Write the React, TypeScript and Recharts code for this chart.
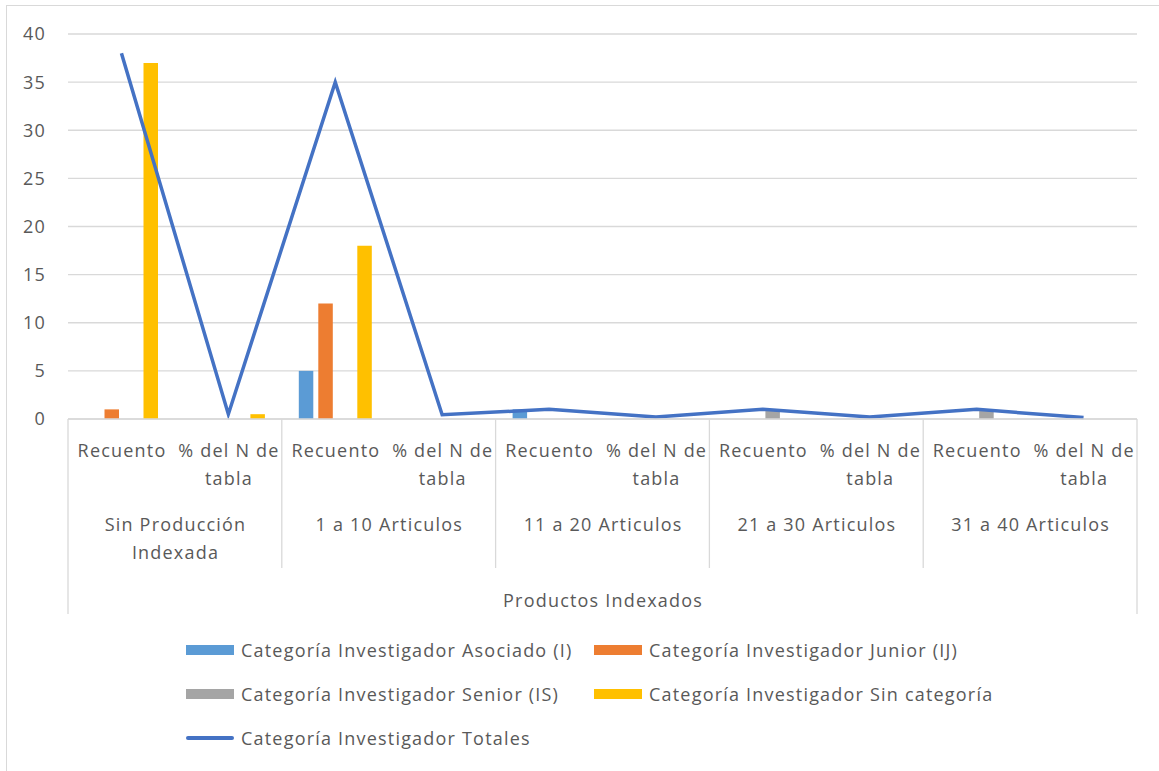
import React from 'react';
import { ComposedChart, Bar, Line, XAxis, YAxis, CartesianGrid, Legend } from 'recharts';

const groupLabels: string[][] = [
  ['Sin Producción', 'Indexada'],
  ['1 a 10 Articulos'],
  ['11 a 20 Articulos'],
  ['21 a 30 Articulos'],
  ['31 a 40 Articulos'],
];
const subLabels: string[][] = [['Recuento'], ['% del N de', 'tabla']];
const axisTitle = 'Productos Indexados';

const asociado = [0, 0, 5, 0, 1, 0, 0, 0, 0, 0];
const junior = [1, 0, 12, 0, 0, 0, 0, 0, 0, 0];
const senior = [0, 0, 0, 0, 0, 0, 1, 0, 1, 0];
const sinCategoria = [37, 0.5, 18, 0, 0, 0, 0, 0, 0, 0];
const totales = [38, 0.5, 35, 0.45, 1, 0.2, 1, 0.2, 1, 0.15];
const yTicks = [0, 5, 10, 15, 20, 25, 30, 35, 40];

const seriesNames = {
  asociado: 'Categoría Investigador Asociado (I)',
  junior: 'Categoría Investigador Junior (IJ)',
  senior: 'Categoría Investigador Senior (IS)',
  sinCategoria: 'Categoría Investigador Sin categoría',
  totales: 'Categoría Investigador Totales',
};

const data = asociado.map((_, i) => ({
  sub: subLabels[i % 2].join(' '),
  group: groupLabels[Math.floor(i / 2)].join(' '),
  asociado: asociado[i],
  junior: junior[i],
  senior: senior[i],
  sinCategoria: sinCategoria[i],
  totales: totales[i],
}));

const FONT = "'Open Sans', sans-serif";
const TEXT = '#595959';
const LINE = '#D9D9D9';
const FS = 18;
const LS = 1.2;

const T = (p: any) => (
  <text x={p.x} y={p.y} textAnchor="middle" dominantBaseline="central"
    fontFamily={FONT} fontSize={FS} fill={TEXT} style={{ letterSpacing: `${LS}px` }}>{p.children}</text>
);

const XTick = (props: any) => {
  const { x, y, payload, index, visibleTicksCount } = props;
  const i: number = payload?.index ?? index;
  const half: number = payload?.offset ?? 53.45;
  const count: number = visibleTicksCount ?? data.length;
  const lines = subLabels[i % 2];
  const els: React.ReactNode[] = [];
  lines.forEach((l, k) => {
    els.push(<T key={'s' + k} x={x + LS / 2} y={y + 31 + k * 28}>{l}</T>);
  });
  if (i % 2 === 0) {
    const g = groupLabels[Math.floor(i / 2)];
    g.forEach((l, k) => {
      els.push(<T key={'g' + k} x={x + half + LS / 2} y={y + 105 + k * 28}>{l}</T>);
    });
    els.push(<line key="sep" x1={x - half} x2={x - half} y1={y} y2={i === 0 ? y + 195 : y + 149} stroke={LINE} strokeWidth={1.3} />);
  }
  if (i === count - 1) {
    els.push(<line key="end" x1={x + half} x2={x + half} y1={y} y2={y + 195} stroke={LINE} strokeWidth={1.3} />);
  }
  if (i === 0) {
    els.push(<T key="title" x={x - half + count * half + LS / 2} y={y + 181}>{axisTitle}</T>);
  }
  return <g>{els}</g>;
};

const LegendContent = (props: any) => {
  const payload: any[] = props.payload || [];
  return (
    <div style={{ position: 'relative', width: 1159, height: 132 }}>
      {payload.map((p, idx) => {
        const row = Math.floor(idx / 2);
        const col = idx % 2;
        const left = col === 0 ? 186 : 594;
        const top = row * 44;
        const isLine = p.type === 'line';
        return (
          <div key={idx} style={{ position: 'absolute', left, top, height: 44, display: 'flex', alignItems: 'center', whiteSpace: 'nowrap' }}>
            {isLine ? (
              <svg width={48} height={10} style={{ display: 'block' }}>
                <line x1={2} x2={46} y1={5} y2={5} stroke={p.color} strokeWidth={4} strokeLinecap="round" />
              </svg>
            ) : (
              <div style={{ width: 48, height: 10, background: p.color }} />
            )}
            <span style={{ marginLeft: 7, fontFamily: FONT, fontSize: FS, color: TEXT, letterSpacing: `${LS}px` }}>{p.value}</span>
          </div>
        );
      })}
    </div>
  );
};

export default function App() {
  return (
    <div style={{ position: 'absolute', left: 0, top: 0, width: 1159, height: 771, background: '#fff' }}>
      <div style={{ position: 'absolute', left: 6, top: 5, right: 0, bottom: 0, borderLeft: `1.5px solid ${LINE}`, borderTop: `1.5px solid ${LINE}` }} />
      <ComposedChart
        width={1159}
        height={771}
        data={data}
        margin={{ top: 34, right: 22, left: 8, bottom: 152 }}
        barSize={14.5}
        barGap={5}
        style={{ position: 'absolute', left: 0, top: 0 }}
      >
        <CartesianGrid vertical={false} stroke={LINE} strokeWidth={1.3} />
        <XAxis
          dataKey="sub"
          interval={0}
          height={200}
          tickLine={false}
          tickSize={0}
          tickMargin={0}
          axisLine={{ stroke: LINE, strokeWidth: 1.3 }}
          tick={<XTick />}
        />
        <YAxis
          width={60}
          domain={[0, 40]}
          ticks={yTicks}
          axisLine={false}
          tickLine={false}
          tickSize={0}
          tickMargin={22}
          tick={{ fontFamily: FONT, fontSize: FS, fill: TEXT, style: { letterSpacing: `${LS}px` } }}
        />
        <Bar dataKey="asociado" name={seriesNames.asociado} fill="#5B9BD5" isAnimationActive={false} />
        <Bar dataKey="junior" name={seriesNames.junior} fill="#ED7D31" isAnimationActive={false} />
        <Bar dataKey="senior" name={seriesNames.senior} fill="#A5A5A5" isAnimationActive={false} />
        <Bar dataKey="sinCategoria" name={seriesNames.sinCategoria} fill="#FFC000" isAnimationActive={false} />
        <Line dataKey="totales" name={seriesNames.totales} type="linear" stroke="#4472C4" strokeWidth={3.5}
          dot={false} activeDot={false} isAnimationActive={false} />
        <Legend
          layout="horizontal"
          verticalAlign="middle"
          align="center"
          content={<LegendContent />}
          wrapperStyle={{ position: 'absolute', left: 0, top: 628, width: 1159, height: 132 }}
        />
      </ComposedChart>
    </div>
  );
}
